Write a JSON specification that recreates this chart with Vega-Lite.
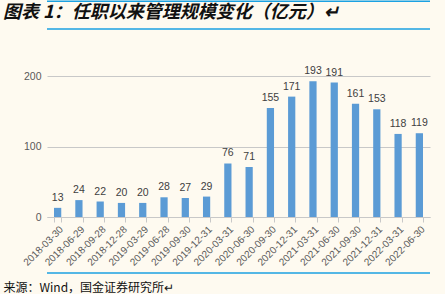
{
  "$schema": "https://vega.github.io/schema/vega-lite/v6.json",
  "width": 383,
  "height": 176,
  "autosize": "none",
  "padding": {"left": 47, "top": 41, "right": 15, "bottom": 77},
  "background": "#FEFAF0",
  "config": {"view": {"stroke": null}, "font": "Liberation Sans"},
  "title": {
    "text": "图表 1：任职以来管理规模变化（亿元）↵",
    "anchor": "start",
    "frame": "group",
    "dx": -44,
    "offset": 16,
    "dy": 38,
    "fontSize": 18,
    "fontStyle": "italic",
    "fontWeight": "bold",
    "font": "Noto Sans CJK SC",
    "color": "#111111"
  },
  "datasets": {
    "lines": [{"y": 306.5}, {"y": 267}, {"y": -79.5}]
  },
  "data": {
    "values": [
      {"date": "2018-03-30", "v": 13},
      {"date": "2018-06-29", "v": 24},
      {"date": "2018-09-28", "v": 22},
      {"date": "2018-12-28", "v": 20},
      {"date": "2019-03-29", "v": 20},
      {"date": "2019-06-28", "v": 28},
      {"date": "2019-09-30", "v": 27},
      {"date": "2019-12-31", "v": 29},
      {"date": "2020-03-31", "v": 76},
      {"date": "2020-06-30", "v": 71},
      {"date": "2020-09-30", "v": 155},
      {"date": "2020-12-31", "v": 171},
      {"date": "2021-03-31", "v": 193},
      {"date": "2021-06-30", "v": 191},
      {"date": "2021-09-30", "v": 161},
      {"date": "2021-12-31", "v": 153},
      {"date": "2022-03-31", "v": 118},
      {"date": "2022-06-30", "v": 119}
    ]
  },
  "layer": [
    {
      "mark": {"type": "bar", "color": "#5B9BD5"},
      "encoding": {
        "x": {
          "field": "date",
          "type": "ordinal",
          "sort": null,
          "scale": {"paddingInner": 0.66, "paddingOuter": 0.33},
          "axis": {
            "title": "来源：Wind，国金证券研究所↵",
            "titleX": -44,
            "titleY": 70,
            "titleAlign": "left",
            "titleAnchor": null,
            "titleBaseline": "middle",
            "titleFont": "Noto Sans CJK SC",
            "titleFontSize": 12,
            "titleFontWeight": "normal",
            "titleColor": "#111111",
            "labelAngle": -45,
            "labelFontSize": 10,
            "labelColor": "#595959",
            "labelPadding": 2,
            "domainColor": "#C8C8C8",
            "tickColor": "#C8C8C8",
            "tickBand": "extent",
            "tickSize": 5
          }
        },
        "y": {
          "field": "v",
          "type": "quantitative",
          "scale": {"domain": [0, 250], "nice": false},
          "axis": {
            "title": null,
            "values": [0, 50, 100, 150, 200, 250],
            "labelOverlap": false,
            "grid": true,
            "domain": false,
            "ticks": false,
            "labelFontSize": 10.5,
            "labelColor": "#595959",
            "labelPadding": 6,
            "gridColor": "#C8C8C8",
            "gridWidth": 1
          }
        }
      }
    },
    {
      "mark": {"type": "text", "dy": -10, "fontSize": 10.5, "color": "#404040"},
      "encoding": {
        "x": {"field": "date", "type": "ordinal", "sort": null},
        "y": {
          "field": "v",
          "type": "quantitative",
          "axis": {
            "title": null,
            "values": [0, 50, 100, 150, 200, 250],
            "labelOverlap": false,
            "grid": true,
            "domain": false,
            "ticks": false,
            "labelFontSize": 10.5,
            "labelColor": "#595959",
            "labelPadding": 6,
            "gridColor": "#C8C8C8",
            "gridWidth": 1
          }
        },
        "text": {"field": "v", "type": "quantitative"}
      }
    },
    {
      "data": {"name": "lines"},
      "mark": {"type": "rule", "color": "#1BA1E2", "strokeWidth": 1.5, "clip": false},
      "encoding": {
        "y": {"field": "y", "type": "quantitative"}
      }
    }
  ]
}
